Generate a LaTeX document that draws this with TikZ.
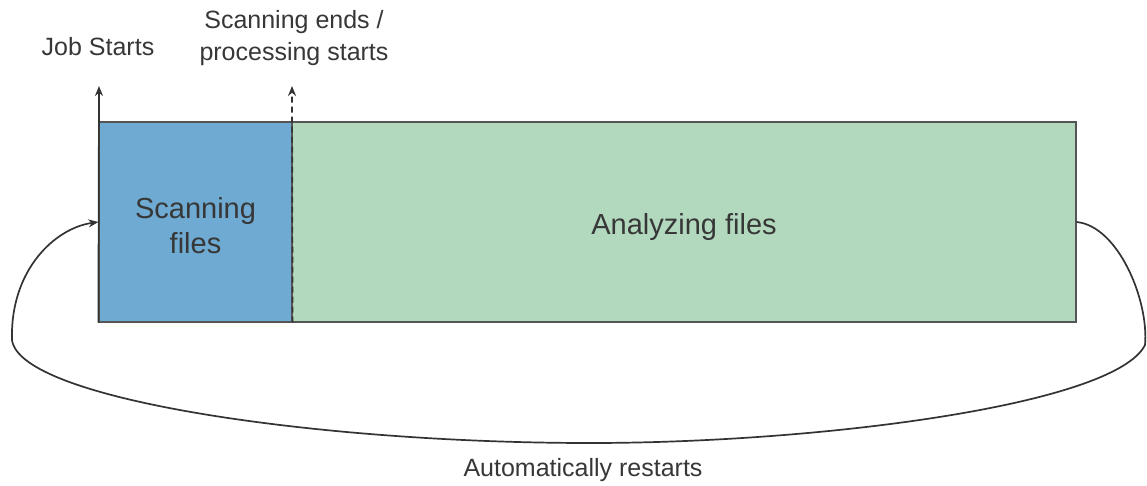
\documentclass[tikz,border=0pt]{standalone}
\usepackage{fontspec}
\setmainfont{Liberation Sans}
\usetikzlibrary{arrows.meta}
\definecolor{scanblue}{RGB}{110,170,210}
\definecolor{anagreen}{RGB}{178,217,190}
\definecolor{edgegray}{RGB}{85,85,85}
\definecolor{txt}{RGB}{55,55,55}
\tikzset{
  phase/.style={draw=edgegray, line width=1.2pt, minimum height=200pt, inner sep=0pt},
  phasetext/.style={text=txt, font=\fontsize{29}{35}\selectfont, align=center, inner sep=0pt},
  lbl/.style={text=txt, font=\fontsize{25}{32}\selectfont, align=center, inner sep=0pt},
  tip/.style={-{Stealth[length=10pt,width=8pt]}},
  conn/.style={draw=black!80, line width=1.7pt},
}
\begin{document}
\begin{tikzpicture}[x=1pt,y=-1pt]
\useasboundingbox (0,0) rectangle (1147,485);
\node[phase, fill=scanblue, minimum width=193pt,
  label={[phasetext, name=scantext, yshift=-4pt]center:Scanning\\files}] (scan) at (195.5,222) {};
\node[phase, fill=anagreen, minimum width=784pt,
  label={[phasetext, name=anatext, yshift=-5pt]center:Analyzing files}] (ana) at (684,222) {};
\coordinate (jobtop) at (99,86);
\coordinate (endtop) at (292,86);
\node[lbl] (job) at (98,47) {Job Starts};
\node[lbl] (ends) at (294,38) {Scanning ends /\\processing starts};
\draw[conn, tip] (scan.south west) -- (jobtop);
\draw[conn, tip, dashed, dash pattern=on 6pt off 4pt] (scan.south east) -- (endtop);
\coordinate (r) at (1145,345);
\coordinate (b) at (590,443);
\coordinate (l) at (12,340);
\draw[conn, tip] (ana.east) .. controls (1118,226) and (1149,300) .. (r)
  .. controls (1115,405) and (820,443) .. (b)
  .. controls (320,443) and (20,400) .. (l)
  .. controls (10,270) and (55,228) .. (scan.west);
\node[lbl] (auto) at (583,470) {Automatically restarts};
\end{tikzpicture}
\end{document}
